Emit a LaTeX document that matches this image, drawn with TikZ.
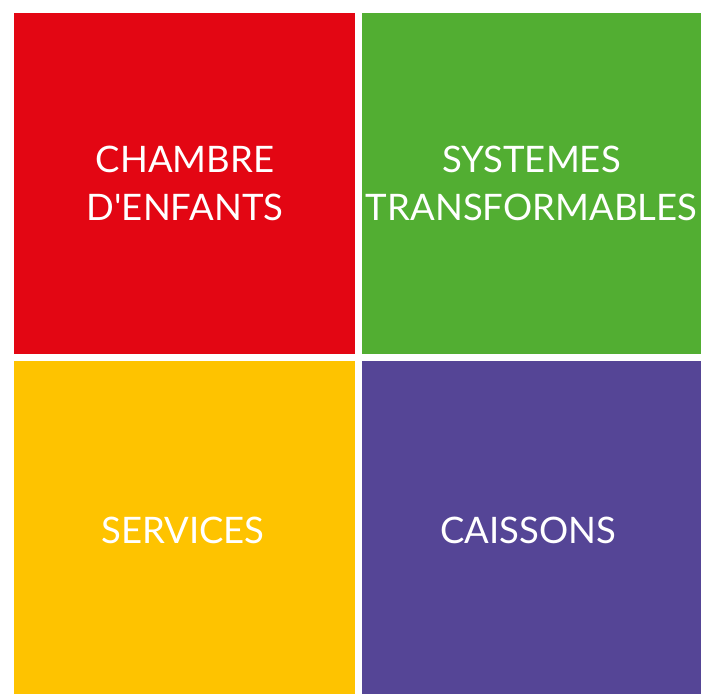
\documentclass[tikz,border=0pt]{standalone}
\usepackage{fontspec}
\setmainfont{Lato}
\definecolor{chambrered}{HTML}{E30613}
\definecolor{systemgreen}{HTML}{52AE32}
\definecolor{serviceyellow}{HTML}{FEC300}
\definecolor{caissonpurple}{HTML}{554596}
\begin{document}
\begin{tikzpicture}[x=1pt, y=-1pt]
\tikzset{ inner sep=0pt, outer sep=0pt,
  tile/.style={rectangle, draw=none},
  caption/.style={text=white, align=center, font=\fontsize{36.5}{48}\selectfont},
}

\useasboundingbox [fill=white] (0,0) rectangle (701,694);

% coloured tiles
\node [tile, fill=chambrered,    minimum width=341pt, minimum height=341pt] (chambre)  at (184.5,183.5) {};
\node [tile, fill=systemgreen,   minimum width=339pt, minimum height=341pt] (systemes) at (531.5,183.5) {};
\node [tile, fill=serviceyellow, minimum width=341pt, minimum height=333pt] (services) at (184.5,527.5) {};
\node [tile, fill=caissonpurple, minimum width=339pt, minimum height=333pt] (caissons) at (531.5,527.5) {};

% captions
\node [caption] (chambre text)  at (185.0,183.0) {CHAMBRE\\D\textquotesingle ENFANTS};
\node [caption] (systemes text) at (531.5,183.0) {SYSTEMES\\TRANSFORMABLES};
\node [caption] (services text) at (183.0,530.5) {SERVICES};
\node [caption] (caissons text) at (528.5,530.5) {CAISSONS};
\end{tikzpicture}
\end{document}
